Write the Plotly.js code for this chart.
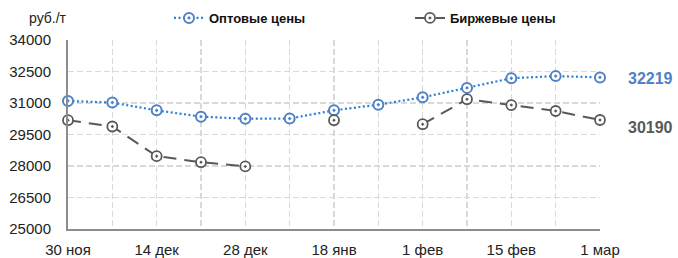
<!DOCTYPE html>
<html>
<head>
<meta charset="utf-8">
<script src="https://cdn.plot.ly/plotly-3.0.1.min.js"></script>
<style>html,body{margin:0;padding:0;background:#fff;}#chart{width:678px;height:258px;}</style>
</head>
<body>
<div id="chart"></div>
<script>
const categories = ['30 ноя','7 дек','14 дек','21 дек','28 дек','11 янв','18 янв','25 янв','1 фев','8 фев','15 фев','22 фев','1 мар'];
const tickLabels = ['30 ноя','','14 дек','','28 дек','','18 янв','','1 фев','','15 фев','','1 мар'];
const wholesale = [31100, 31020, 30650, 30350, 30250, 30260, 30650, 30920, 31270, 31720, 32180, 32280, 32219];
const exchange = [30180, 29880, 28470, 28180, 27980, null, 30180, null, 29990, 31180, 30900, 30620, 30190];
const yTicks = [25000, 26500, 28000, 29500, 31000, 32500, 34000];
const seriesNames = ['Оптовые цены', 'Биржевые цены'];
const unitLabel = 'руб./т';

const FONT = 'Liberation Sans, Arial, sans-serif';
const blueLine = '#2a7fd4', blueMarker = '#4f81c4', grayLine = '#595959';

const traces = [
  {
    x: categories, y: wholesale, name: seriesNames[0], type: 'scatter', mode: 'lines+markers',
    line: {color: blueLine, width: 2.2, dash: '2px,2.5px'},
    marker: {symbol: 'circle-dot', size: 10, color: '#ffffff', line: {color: blueMarker, width: 2}},
    cliponaxis: false, connectgaps: false, legend: 'legend'
  },
  {
    x: categories, y: exchange, name: seriesNames[1], type: 'scatter', mode: 'lines+markers',
    line: {color: grayLine, width: 2, dash: '13px,8px'},
    marker: {symbol: 'circle-dot', size: 10, color: '#ffffff', line: {color: grayLine, width: 1.8}},
    cliponaxis: false, connectgaps: false, legend: 'legend2'
  }
];

const W = 678, H = 258, L = 68, R = 78, T = 40, B = 29;
const pw = W - L - R, ph = H - T - B;
const px = v => (v - L) / pw;
const py = v => (H - B - v) / ph;

const legendBase = {
  orientation: 'h', xref: 'container', yref: 'container',
  y: 1 - 18 / H, xanchor: 'left', yanchor: 'middle',
  font: {family: FONT, size: 13, color: '#111111', weight: 'bold'},
  bgcolor: 'rgba(0,0,0,0)', borderwidth: 0
};

const layout = {
  width: W, height: H,
  margin: {l: L, r: R, t: T, b: B, pad: 0, autoexpand: false},
  paper_bgcolor: '#ffffff', plot_bgcolor: '#ffffff',
  font: {family: FONT, size: 15, color: '#222222'},
  showlegend: true,
  legend: Object.assign({}, legendBase, {x: 169 / W}),
  legend2: Object.assign({}, legendBase, {x: 410 / W}),
  xaxis: {
    type: 'category', range: [0, categories.length - 1],
    tickmode: 'array', tickvals: categories, ticktext: tickLabels,
    showgrid: true, gridcolor: '#d9d9d9', gridwidth: 1.5, griddash: '6px,3px',
    showline: true, linecolor: '#8c8c8c', linewidth: 2,
    ticks: '', ticklabelstandoff: 6,
    tickfont: {family: FONT, size: 15, color: '#222222'},
    zeroline: false, fixedrange: true
  },
  yaxis: {
    range: [25000, 34000], tickmode: 'array', tickvals: yTicks, ticktext: yTicks.map(String),
    showgrid: true, gridcolor: '#d9d9d9', gridwidth: 1.5, griddash: '6px,3px',
    showline: true, linecolor: '#8c8c8c', linewidth: 2,
    ticks: '', ticklabelstandoff: 12,
    tickfont: {family: FONT, size: 15, color: '#222222'},
    zeroline: false, fixedrange: true
  },
  annotations: [
    {text: unitLabel, xref: 'paper', yref: 'paper', x: px(27), y: py(18), xanchor: 'left', yanchor: 'middle',
     showarrow: false, font: {family: FONT, size: 14, color: '#222222'}},
    {text: String(wholesale[wholesale.length - 1]), xref: 'paper', yref: 'y', x: px(626), y: wholesale[wholesale.length - 1] - 50,
     xanchor: 'left', yanchor: 'middle', showarrow: false,
     font: {family: FONT, size: 16, color: blueMarker, weight: 'bold'}},
    {text: String(exchange[exchange.length - 1]), xref: 'paper', yref: 'y', x: px(626), y: exchange[exchange.length - 1] - 380,
     xanchor: 'left', yanchor: 'middle', showarrow: false,
     font: {family: FONT, size: 16, color: grayLine, weight: 'bold'}}
  ]
};

Plotly.newPlot('chart', traces, layout, {displayModeBar: false, staticPlot: true});
</script>
</body>
</html>
